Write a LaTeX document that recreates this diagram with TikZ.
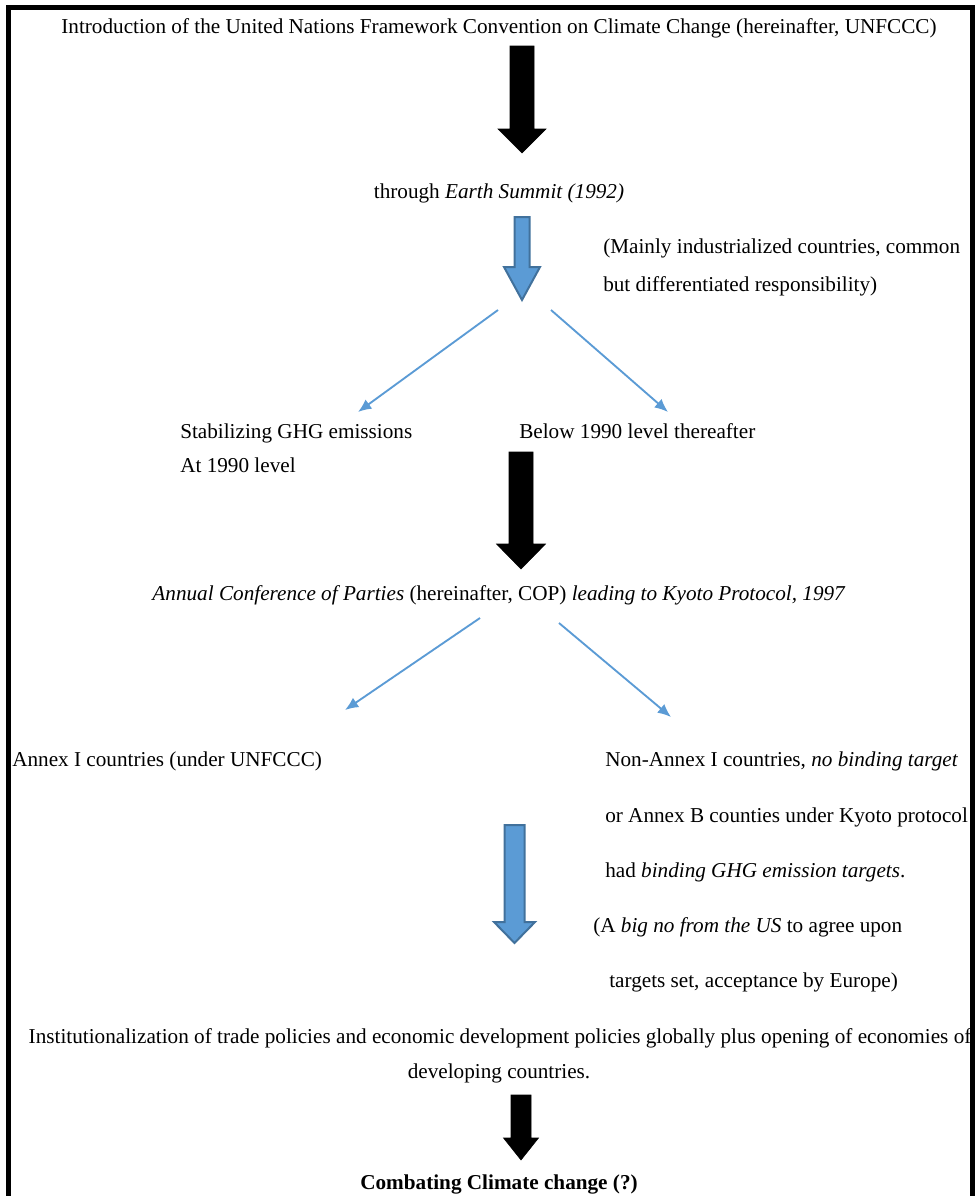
\documentclass[tikz,border=0pt]{standalone}
\usepackage{fontspec}
\setmainfont{Liberation Serif}
\usepackage{tikz}
\usetikzlibrary{arrows.meta,positioning,calc}

\definecolor{arrowblue}{HTML}{5B9BD5}
\definecolor{arrowedge}{HTML}{41719C}

% block arrow pointing down: style, x centre, top, head start, tip, half shaft, half head
\newcommand{\downblock}[7]{%
  \draw[#1] (#2-#6,#3) -- (#2+#6,#3) -- (#2+#6,#4) -- (#2+#7,#4) -- (#2,#5)
    -- (#2-#7,#4) -- (#2-#6,#4) -- cycle;}

\tikzset{
  txt/.style={font=\fontsize{15.9}{19}\selectfont, inner sep=0pt, anchor=base},
  txtl/.style={txt, anchor=base west},
  blackblock/.style={fill=black, draw=black, line width=0.4pt},
  blueblock/.style={fill=arrowblue, draw=arrowedge, line width=1.5pt},
  branch/.style={draw=arrowblue, line width=1.4pt, -{Latex[length=10pt,width=8.5pt]}}
}

\begin{document}
\begin{tikzpicture}[x=0.75pt,y=-0.75pt]
\useasboundingbox (0,0) rectangle (976,1196);

% Frame (open at the bottom)
\draw[line width=3.75pt, line join=miter] (8.5,1196) -- (8.5,7.5) -- (972.5,7.5) -- (972.5,1196);

% Top
\node[txt] (intro) at (499,33) {Introduction of the United Nations Framework Convention on Climate Change (hereinafter, UNFCCC)};
\downblock{blackblock}{522}{46}{129}{153}{12}{24}

\node[txt] (summit) at (499,198) {through \textit{Earth Summit (1992)}};
\downblock{blueblock}{522}{217}{267}{300}{7.5}{18}

\node[txtl] (mainly) at (603,253) {(Mainly industrialized countries, common};
\node[txtl] (diff) at (603,291) {but differentiated responsibility)};

% First branch
\coordinate (s1) at (498,310);
\coordinate (e1) at (358,412);
\coordinate (s2) at (551,310);
\coordinate (e2) at (668,412);
\draw[branch] (s1) -- (e1);
\draw[branch] (s2) -- (e2);

\node[txtl] (stab) at (180,438) {Stabilizing GHG emissions};
\node[txtl] (level) at (180,472) {At 1990 level};
\node[txtl] (below) at (519,438) {Below 1990 level thereafter};

\downblock{blackblock}{521}{452}{544}{569}{12}{24.5}

\node[txt] (cop) at (499,600) {\textit{Annual Conference of Parties} (hereinafter, COP) \textit{leading to Kyoto Protocol, 1997}};

% Second branch
\coordinate (s3) at (480,618);
\coordinate (e3) at (345,710);
\coordinate (s4) at (559,623);
\coordinate (e4) at (671,717);
\draw[branch] (s3) -- (e3);
\draw[branch] (s4) -- (e4);

\node[txtl] (annex) at (12,766) {Annex I countries (under UNFCCC)};
\node[txtl] (nonannex) at (605,766) {Non-Annex I countries, \textit{no binding target}};
\node[txtl] (annexb) at (605,822) {or Annex B counties under Kyoto protocol};
\node[txtl] (binding) at (605,877) {had \textit{binding GHG emission targets}.};
\node[txtl] (usno) at (593,932) {(A \textit{big no from the US} to agree upon};
\node[txtl] (europe) at (609,987) {targets set, acceptance by Europe)};

\downblock{blueblock}{514.5}{825}{922}{943}{10}{20.5}

% Bottom
\node[txt] (inst) at (500,1043) {Institutionalization of trade policies and economic development policies globally plus opening of economies of};
\node[txt] (devel) at (499,1078) {developing countries.};
\downblock{blackblock}{521}{1095}{1138}{1160}{10}{17.5}
\node[txt] (combat) at (499,1189) {\textbf{Combating Climate change (?)}};
\end{tikzpicture}
\end{document}
